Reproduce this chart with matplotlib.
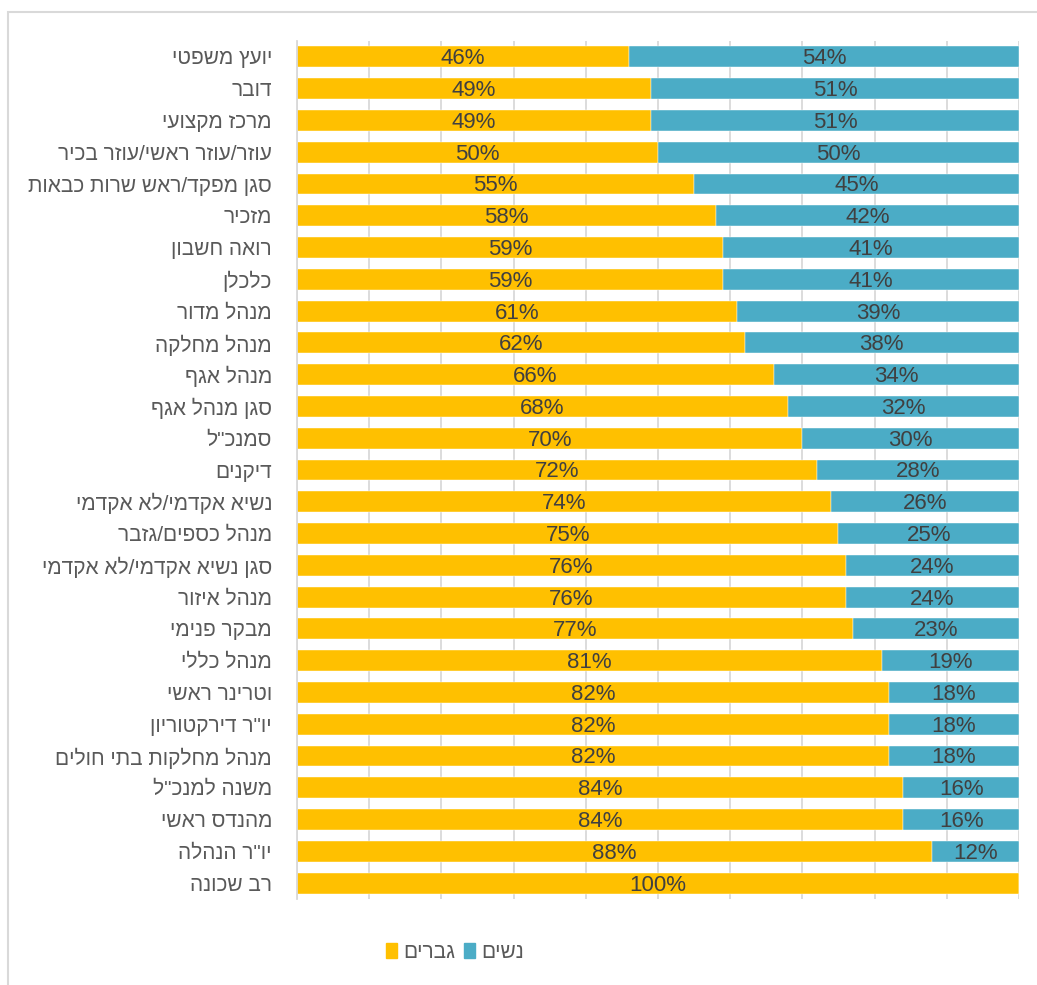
import numpy as np
import matplotlib
matplotlib.use("Agg")
import matplotlib.pyplot as plt
from matplotlib.patches import Rectangle, Patch

# share of men / women per role (top to bottom)
roles = [
    'יועץ משפטי', 'דובר', 'מרכז מקצועי', 'עוזר/עוזר ראשי/עוזר בכיר',
    'סגן מפקד/ראש שרות כבאות', 'מזכיר', 'רואה חשבון', 'כלכלן', 'מנהל מדור',
    'מנהל מחלקה', 'מנהל אגף', 'סגן מנהל אגף', 'סמנכ"ל', 'דיקנים',
    'נשיא אקדמי/לא אקדמי', 'מנהל כספים/גזבר', 'סגן נשיא אקדמי/לא אקדמי',
    'מנהל איזור', 'מבקר פנימי', 'מנהל כללי', 'וטרינר ראשי', 'יו"ר דירקטוריון',
    'מנהל מחלקות בתי חולים', 'משנה למנכ"ל', 'מהנדס ראשי', 'יו"ר הנהלה', 'רב שכונה',
]
men = [46, 49, 49, 50, 55, 58, 59, 59, 61, 62, 66, 68, 70, 72, 74, 75, 76, 76,
       77, 81, 82, 82, 82, 84, 84, 88, 100]
women = [54, 51, 51, 50, 45, 42, 41, 41, 39, 38, 34, 32, 30, 28, 26, 25, 24, 24,
         23, 19, 18, 18, 18, 16, 16, 12, 0]
legend_names = ['גברים', 'נשים']

YELLOW = '#FFC000'
BLUE = '#4BACC6'
GRID = '#d9d9d9'
HEB_FONT = ['Liberation Sans', 'DejaVu Sans']
NUM_FONT = ['Liberation Sans Narrow', 'DejaVu Sans Condensed', 'Liberation Sans']


def rtl(s):
    # matplotlib has no bidi support, so lay Hebrew out visually
    return s[::-1]


fig = plt.figure(figsize=(10.37, 9.85), dpi=100)
ax = fig.add_axes([297 / 1037, 1 - 899 / 985, 722 / 1037, 858 / 985])

y = np.arange(len(roles))
m = np.array(men) / 100
w = np.array(women) / 100
ax.barh(y, m, height=0.66, color=YELLOW, edgecolor='white', linewidth=0.3, zorder=2)
ax.barh(y, w, left=m, height=0.66, color=BLUE, edgecolor='white', linewidth=0.3, zorder=2)

for i in range(len(roles)):
    if men[i] > 0:
        ax.text(m[i] / 2, y[i] + 0.06, f'{men[i]}%', ha='center', va='center',
                fontsize=16, color='#404040', family=NUM_FONT, zorder=3)
    if women[i] > 0:
        ax.text(m[i] + w[i] / 2, y[i] + 0.06, f'{women[i]}%', ha='center', va='center',
                fontsize=16, color='#404040', family=NUM_FONT, zorder=3)

ax.set_xlim(0, 1)
ax.set_ylim(len(roles) - 0.5, -0.5)
ax.set_xticks(np.linspace(0, 1, 11))
ax.set_xticklabels([])
ax.xaxis.grid(True, color=GRID, linewidth=1.3, zorder=0)
ax.tick_params(axis='x', length=0)
ax.set_yticks(y)
ax.set_yticklabels([rtl(r) for r in roles], family=HEB_FONT, fontsize=15,
                   color='#595959')
ax.tick_params(axis='y', length=0, pad=18)
for side in ['top', 'right', 'bottom']:
    ax.spines[side].set_visible(False)
ax.spines['left'].set_color(GRID)
ax.spines['left'].set_linewidth(1.3)

handles = [Patch(color=YELLOW, label=rtl(legend_names[0])),
           Patch(color=BLUE, label=rtl(legend_names[1]))]
fig.legend(handles=handles, loc='center', bbox_to_anchor=(455 / 1037, 1 - 952 / 985),
           ncol=2, frameon=False, handlelength=0.5, handleheight=0.7,
           handletextpad=0.3, columnspacing=0.45,
           prop={'family': HEB_FONT, 'size': 15}, labelcolor='#595959')

# outer frame
fig.patches.append(Rectangle((8 / 1037, -0.05), 1.2, 1.05 - 12 / 985, fill=False,
                             edgecolor=GRID, linewidth=1.5,
                             transform=fig.transFigure, figure=fig))

fig.savefig('out.png', dpi=100)
